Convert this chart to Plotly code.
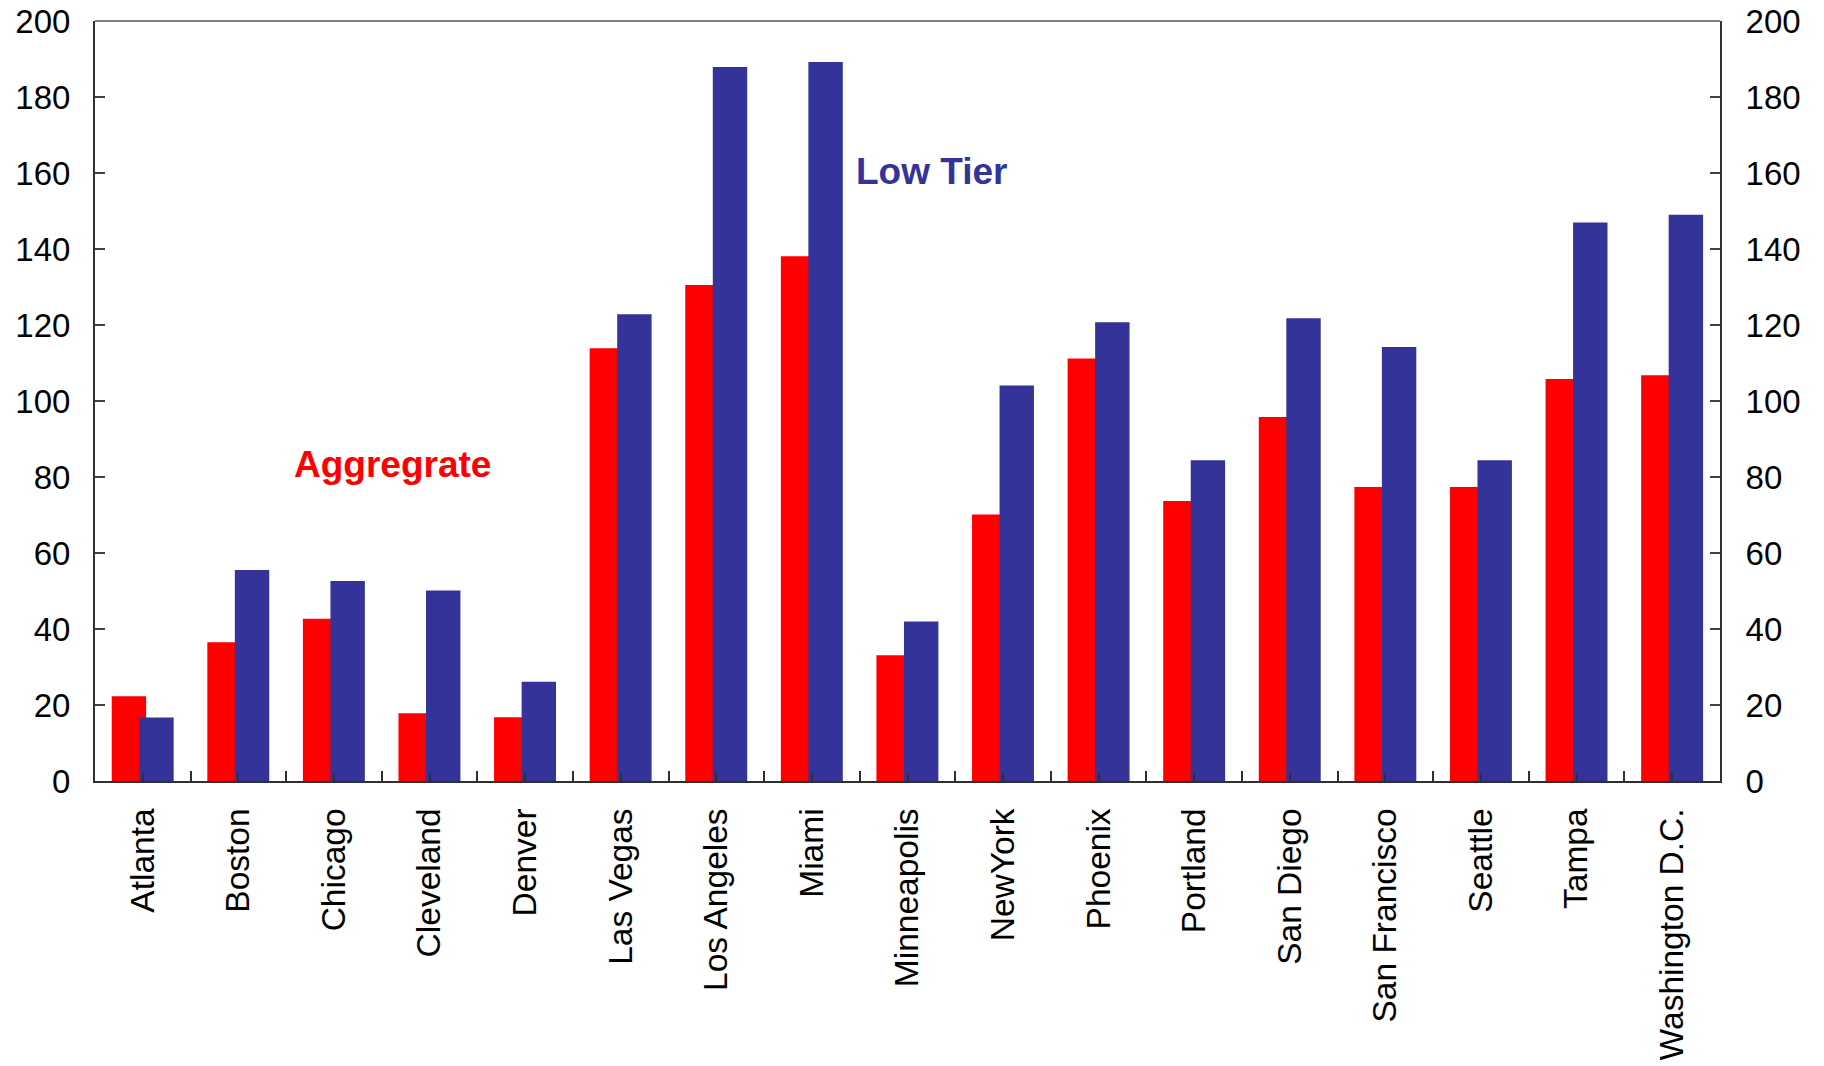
import plotly.graph_objects as go

# City house-price changes: aggregate index vs low-tier index
cities = ["Atlanta", "Boston", "Chicago", "Cleveland", "Denver", "Las Vegas",
          "Los Angeles", "Miami", "Minneapolis", "NewYork", "Phoenix", "Portland",
          "San Diego", "San Francisco", "Seattle", "Tampa", "Washington D.C."]
aggregate = [22.3, 36.5, 42.7, 17.8, 16.8, 113.9, 130.5, 138.1, 33.1, 70.1,
             111.2, 73.7, 95.8, 77.4, 77.4, 105.8, 106.8]
low_tier = [16.7, 55.5, 52.6, 50.1, 26.1, 122.8, 187.9, 189.2, 42.0, 104.1,
            120.7, 84.4, 121.8, 114.2, 84.4, 147.0, 149.0]

y_ticks = list(range(0, 201, 20))
boundaries = [i - 0.5 for i in range(len(cities) + 1)]

RED = "#FF0000"
BLUE = "#333399"
FONT = "Arial, Liberation Sans, sans-serif"

fig = go.Figure()
fig.add_trace(go.Bar(x=cities, y=aggregate, name="Aggregrate",
                     marker=dict(color=RED, line=dict(width=0)),
                     width=0.36, offset=-0.325))
fig.add_trace(go.Bar(x=cities, y=low_tier, name="Low Tier",
                     marker=dict(color=BLUE, line=dict(width=0)),
                     width=0.36, offset=-0.037))

axis_font = dict(family=FONT, size=33, color="#000000")
cat_font = dict(family=FONT, size=33.5, color="#000000")

fig.update_layout(
    width=1824, height=1066,
    margin=dict(l=95, r=104, t=21, b=285),
    paper_bgcolor="white", plot_bgcolor="white",
    barmode="overlay",
    showlegend=False,
    font=dict(family=FONT),
    xaxis=dict(
        type="category", range=[-0.5, len(cities) - 0.5], automargin=False,
        showgrid=False, zeroline=False,
        showline=True, linecolor="#303030", linewidth=2,
        ticks="inside", ticklen=8, tickwidth=2, tickcolor="#303030",
        tickangle=-90, tickfont=cat_font, ticklabelstandoff=12,
    ),
    xaxis2=dict(
        overlaying="x", anchor="y", side="bottom", automargin=False,
        range=[-0.5, len(cities) - 0.5],
        tickmode="array", tickvals=boundaries,
        showticklabels=False, showgrid=False, zeroline=False,
        showline=False,
        ticks="inside", ticklen=10, tickwidth=2, tickcolor="#303030",
    ),
    yaxis=dict(
        range=[0, 200], tickmode="array", tickvals=y_ticks, automargin=False,
        showgrid=False, zeroline=False,
        showline=True, linecolor="#303030", linewidth=2,
        ticks="inside", ticklen=10, tickwidth=2, tickcolor="#404040",
        tickfont=axis_font, ticklabelstandoff=16,
    ),
    yaxis2=dict(
        overlaying="y", anchor="x", side="right", automargin=False,
        range=[0, 200], tickmode="array", tickvals=y_ticks,
        showgrid=False, zeroline=False,
        showline=True, linecolor="#303030", linewidth=2,
        ticks="inside", ticklen=10, tickwidth=2, tickcolor="#404040",
        tickfont=axis_font, ticklabelstandoff=17,
    ),
    shapes=[dict(type="line", xref="paper", yref="paper",
                 x0=0, x1=1, y0=1, y1=1,
                 line=dict(color="#808080", width=2))],
    annotations=[
        dict(text="<b>Aggregrate</b>", xref="paper", yref="paper",
             x=0.1828, y=0.417, xanchor="center", yanchor="middle",
             showarrow=False, font=dict(family=FONT, size=37, color=RED)),
        dict(text="<b>Low Tier</b>", xref="paper", yref="paper",
             x=0.5145, y=0.8026, xanchor="center", yanchor="middle",
             showarrow=False, font=dict(family=FONT, size=37, color=BLUE)),
    ],
)

# Empty traces bind the secondary axes so their ticks are drawn
fig.add_trace(go.Scatter(x=[None], y=[None], xaxis="x2", yaxis="y",
                         showlegend=False, hoverinfo="skip"))
fig.add_trace(go.Scatter(x=[None], y=[None], xaxis="x", yaxis="y2",
                         showlegend=False, hoverinfo="skip"))

fig.write_html("out.html")
